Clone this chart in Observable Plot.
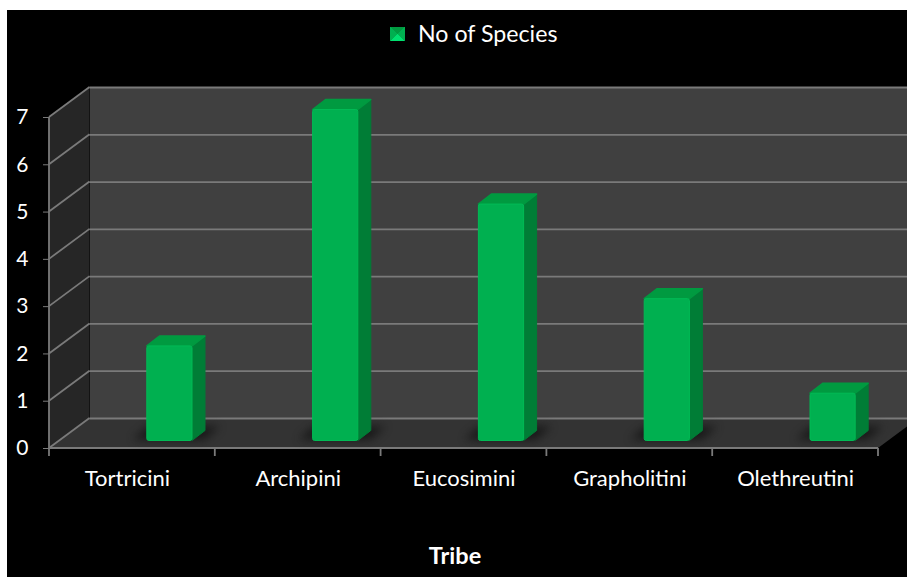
<!DOCTYPE html>
<html>
<head>
<meta charset="utf-8">
<script src="https://cdn.jsdelivr.net/npm/d3@7"></script>
<script src="https://cdn.jsdelivr.net/npm/@observablehq/plot@0.6"></script>
<style>
  html, body { margin: 0; padding: 0; background: #fff; overflow: hidden; }
  #panel { position: absolute; left: 7px; top: 10px; width: 900px; height: 567px; background: #000; overflow: hidden; font-family: Lato, sans-serif; }
  #panel svg { display: block; }
  #legend { position: absolute; left: 383px; top: 9px; height: 28px; display: flex; align-items: center; color: #fff; font-size: 23.2px; }
  #swatch { width: 15px; height: 14px; margin-top: 1px; margin-right: 13px; background: conic-gradient(from 135deg, #00e070 0 90deg, #00b050 90deg 180deg, #009a40 180deg 270deg, #00b050 270deg 360deg); }
</style>
</head>
<body>
<div id="panel">
  <div id="legend"><div id="swatch"></div><span>No of Species</span></div>
</div>
<script>
const tribes = ["Tortricini", "Archipini", "Eucosimini", "Grapholitini", "Olethreutini"];
const speciesCounts = [2, 7, 5, 3, 1];
const yTicks = [0, 1, 2, 3, 4, 5, 6, 7];
const rows = tribes.map((tribe, i) => ({tribe, count: speciesCounts[i]}));

// Oblique projection of the box the columns stand in.
const depthX = 40.5, depthY = -30;
// Columns sit part way into the box, with their own shallow depth.
const barShiftX = 37.5, barShiftY = -7.5, barDepthX = 13, barDepthY = -10, barInset = 60.3;

const wallColor = "#404040", sideColor = "#262626", floorColor = "#333333", lineColor = "#7a7a7a";

function svgEl(name, attrs) {
  const el = document.createElementNS("http://www.w3.org/2000/svg", name);
  for (const k in attrs) el.setAttribute(k, attrs[k]);
  return el;
}
const poly = (pts) => "M" + pts.map((p) => p.join(",")).join("L") + "Z";

// Side wall, floor, slanted grid segments and category separators.
function box(index, scales, values, dimensions) {
  const g = svgEl("g", {});
  const x0 = dimensions.marginLeft, x1 = dimensions.width - dimensions.marginRight;
  const yb = scales.y(0), yt = scales.y(7);
  g.append(svgEl("path", {fill: sideColor, d: poly([[x0, yb], [x0 + depthX, yb + depthY], [x0 + depthX, yt + depthY], [x0, yt]])}));
  g.append(svgEl("path", {fill: floorColor, d: poly([[x0, yb], [x0 + depthX, yb + depthY], [x1 + depthX, yb + depthY], [x1, yb]])}));
  for (const t of yTicks) {
    g.append(svgEl("line", {x1: x0, y1: scales.y(t), x2: x0 + depthX, y2: scales.y(t) + depthY, stroke: lineColor, "stroke-width": 1.8}));
  }
  g.append(svgEl("line", {x1: x0, y1: yb, x2: x0, y2: yt, stroke: lineColor, "stroke-width": 1.8}));
  g.append(svgEl("line", {x1: x0, y1: yb, x2: x1, y2: yb, stroke: lineColor, "stroke-width": 2}));
  const edges = tribes.map((t) => scales.x(t)).concat(x1);
  for (const e of edges) {
    g.append(svgEl("line", {x1: e, y1: yb, x2: e, y2: yb + 8, stroke: lineColor, "stroke-width": 1.8}));
  }
  return g;
}

// Column front comes from the bar mark; its shadow, top and side are added behind it.
function columnFaces(index, scales, values, dimensions, context, next) {
  const g = next(index, scales, values, dimensions, context);
  const first = g.firstChild;
  for (const i of index) {
    const left = scales.x(rows[i].tribe) + barInset;
    const right = left + scales.x.bandwidth() - 2 * barInset;
    const top = scales.y(rows[i].count), base = scales.y(0);
    const shadow = svgEl("path", {
      fill: "#141414", stroke: "none", opacity: 0.9,
      d: poly([[left - 14, base - 1], [left + 2, base - 14], [right + 28, base - 14], [right + 12, base - 1]])
    });
    shadow.style.filter = "blur(5px)";
    g.insertBefore(shadow, first);
    const side = svgEl("path", {
      fill: "#007d36", stroke: "#007d36", "stroke-width": 1, "stroke-linejoin": "round",
      d: poly([[right, top], [right + barDepthX, top + barDepthY], [right + barDepthX, base + barDepthY], [right, base]])
    });
    g.insertBefore(side, first);
    const cap = svgEl("path", {
      fill: "#009a40", stroke: "#009a40", "stroke-width": 1.5, "stroke-linejoin": "round",
      d: poly([[left, top], [left + barDepthX, top + barDepthY], [right + barDepthX, top + barDepthY], [right, top]])
    });
    g.insertBefore(cap, first);
  }
  return g;
}

const chart = Plot.plot({
  width: 900,
  height: 567,
  marginLeft: 42,
  marginRight: 29,
  marginTop: 107,
  marginBottom: 129,
  style: {background: "transparent", fontFamily: "Lato, sans-serif", overflow: "hidden"},
  x: {domain: tribes, padding: 0, round: false, axis: null},
  y: {domain: [0, 7], axis: null},
  marks: [
    Plot.frame({fill: wallColor, stroke: null, dx: depthX, dy: depthY}),
    box,
    Plot.ruleY(yTicks, {stroke: lineColor, strokeWidth: 1.8, dx: depthX, dy: depthY}),
    Plot.barY(rows, {
      x: "tribe", y: "count", fill: "#00b050", stroke: "#00bb55", strokeWidth: 1,
      insetLeft: barInset, insetRight: barInset, rx: 2,
      dx: barShiftX, dy: barShiftY, render: columnFaces
    }),
    Plot.axisY({
      ticks: yTicks, tickSize: 6, tickPadding: 15, stroke: lineColor, color: "#fff",
      fontSize: 21, label: null, tickFormat: (d) => String(d)
    }),
    // The first label is nudged toward the axis.
    Plot.axisX({ticks: tribes.slice(0, 1), tickSize: 0, tickPadding: 22, color: "#fff", fontSize: 22, label: null, dx: -5}),
    Plot.axisX({ticks: tribes.slice(1), tickSize: 0, tickPadding: 22, color: "#fff", fontSize: 22, label: null}),
    Plot.text(["Tribe"], {
      frameAnchor: "bottom", dx: -9, dy: 108, fill: "#fff",
      fontSize: 23.5, fontWeight: 700, lineAnchor: "middle"
    })
  ]
});
document.getElementById("panel").append(chart);
</script>
</body>
</html>
